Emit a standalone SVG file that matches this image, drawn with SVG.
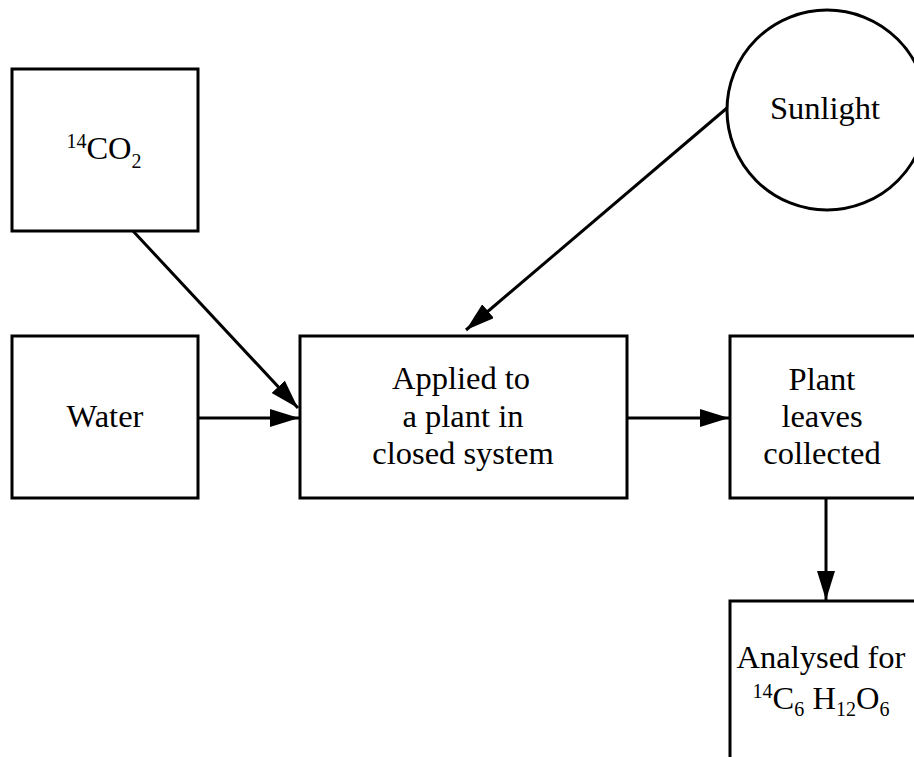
<svg xmlns="http://www.w3.org/2000/svg" width="914" height="757" viewBox="0 0 914 757">
<style>
.box{fill:#fff;stroke:#000;stroke-width:3}
.t{font-family:"Liberation Serif","Times New Roman",serif;font-size:32.5px;fill:#000;text-anchor:middle}
.s{font-size:20px}
.c{stroke:#000;stroke-width:3;fill:none;marker-end:url(#ah)}
</style>
<defs>
<marker id="ah" markerUnits="userSpaceOnUse" markerWidth="32" markerHeight="20" refX="29" refY="9" orient="auto">
<path d="M0,0 L29,9 L0,18 z" fill="#000"/>
</marker>
</defs>
<rect width="914" height="757" fill="#fff"/>
<g id="co2">
<rect class="box" x="12" y="69" width="186" height="162"/>
<text class="t" x="104" y="159"><tspan class="s" dy="-11">14</tspan><tspan dy="11">CO</tspan><tspan class="s" dy="9">2</tspan></text>
</g>
<g id="water">
<rect class="box" x="12" y="336" width="186" height="162"/>
<text class="t" x="105" y="427">Water</text>
</g>
<g id="sunlight">
<circle class="box" cx="827" cy="110" r="100"/>
<text class="t" x="825" y="119">Sunlight</text>
</g>
<g id="applied">
<rect class="box" x="300" y="336" width="327" height="162"/>
<text class="t" x="461" y="389">Applied to</text>
<text class="t" x="463" y="427">a plant in</text>
<text class="t" x="463" y="464">closed system</text>
</g>
<g id="leaves">
<rect class="box" x="730" y="336" width="190" height="162"/>
<text class="t" x="822" y="390">Plant</text>
<text class="t" x="822" y="427">leaves</text>
<text class="t" x="822" y="464">collected</text>
</g>
<g id="analysed">
<rect class="box" x="730" y="601" width="190" height="170"/>
<text class="t" x="821" y="668">Analysed for</text>
<text class="t" x="821" y="709"><tspan class="s" dy="-11">14</tspan><tspan dy="11">C</tspan><tspan class="s" dy="7">6</tspan><tspan dy="-7"> H</tspan><tspan class="s" dy="7">12</tspan><tspan dy="-7">O</tspan><tspan class="s" dy="7">6</tspan></text>
</g>
<g id="connectors">
<line class="c" x1="133" y1="231" x2="298" y2="408"/>
<line class="c" x1="198" y1="418" x2="299" y2="418"/>
<line class="c" x1="727" y1="108" x2="466" y2="330"/>
<line class="c" x1="627" y1="418" x2="729" y2="418"/>
<line class="c" x1="826" y1="498" x2="826" y2="600"/>
</g>
</svg>
